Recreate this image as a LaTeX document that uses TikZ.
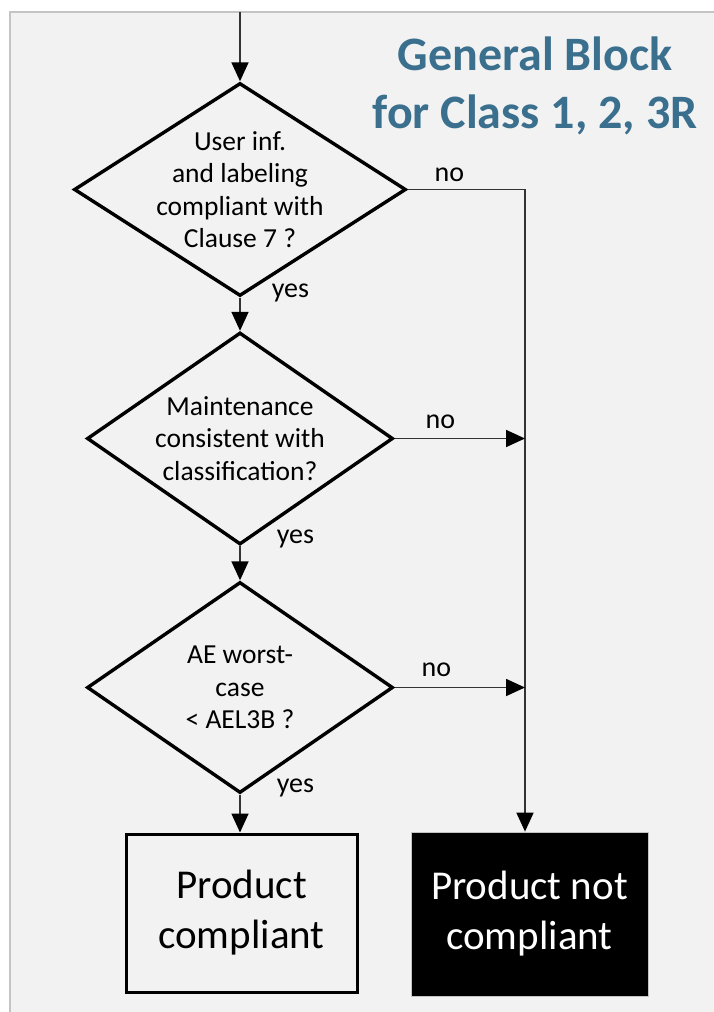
\documentclass[tikz,border=0pt]{standalone}
\usepackage{fontspec}
\setmainfont{Carlito}
\usepackage{xcolor}
\usepackage{tikz}
\usetikzlibrary{shapes.geometric,arrows.meta}

\definecolor{panelgrey}{HTML}{F2F2F2}
\definecolor{framegrey}{HTML}{C4C4C4}
\definecolor{titleblue}{RGB}{58,111,142}

\tikzset{
  dec/.style={diamond, draw, line width=3.4pt, inner sep=0pt},
  dectext/.style={align=center, inner sep=0pt, font=\fontsize{27.5}{32.5}\selectfont},
  res/.style={rectangle, align=center, inner sep=0pt,
    font=\fontsize{41}{50}\selectfont},
  flow/.style={line width=1.7pt, draw=black!80,
    -{Triangle[length=19pt,width=17pt,color=black]}},
  lbl/.style={font=\fontsize{28}{32}\selectfont, inner sep=0pt}
}

\begin{document}
\begin{tikzpicture}[x=1pt,y=1pt]
\useasboundingbox (0,0) rectangle (714,-1012);
% panel
\fill[panelgrey] (10,-12) rectangle (714,-1012);
\draw[framegrey, line width=2pt] (10,-1012) -- (10,-12) -- (714,-12);

\node (title) at (535,-86) [align=center, text=titleblue,
  font=\fontsize{48}{58}\selectfont\bfseries] {General Block\\for Class 1, 2, 3R};

\coordinate (start) at (240,-12);
\node (d1) at (240,-189.5) [dec, minimum width=332, minimum height=213] {};
\node (q1) at (d1) [dectext] {User inf.\\and labeling\\compliant with\\Clause 7 ?};
\node (d2) at (240,-438.5) [dec, minimum width=306, minimum height=212] {};
\node (q2) at (d2) [dectext] {Maintenance\\consistent with\\classification?};
\node (d3) at (240,-687.5) [dec, minimum width=306, minimum height=211] {};
\node (q3) at (d3) [dectext] {AE worst-\\case\\< AEL3B ?};

\node (ok) at (241.5,-913) [res, draw, line width=3pt,
  minimum width=231, minimum height=158] {Product\\compliant};
\node (nok) at (529.5,-914) [res, fill=black, draw=framegrey, line width=0.8pt,
  text=white, minimum width=237, minimum height=164] {Product not\\compliant};

% yes branch
\draw[flow] (start) -- (d1.north);
\draw[flow] (d1.south) -- node[lbl, pos=0, anchor=west, xshift=31pt, yshift=5pt] {yes} (d2.north);
\draw[flow] (d2.south) -- node[lbl, pos=0, anchor=west, xshift=36pt, yshift=7pt] {yes} (d3.north);
\draw[flow] (d3.south) -- node[lbl, pos=0, anchor=west, xshift=36pt, yshift=7pt] {yes} (ok.north -| d3.south);

% no branch
\coordinate (turn) at (525,-189.5);
\coordinate (join2) at (525,-438.5);
\coordinate (join3) at (525,-687.5);
\draw[flow] (d1.east) -- node[lbl, pos=0, anchor=west, xshift=26pt, yshift=15pt] {no}
  (turn) -- (turn |- nok.north);
\draw[flow] (d2.east) -- node[lbl, pos=0, anchor=west, xshift=30pt, yshift=17pt] {no} (join2);
\draw[flow] (d3.east) -- node[lbl, pos=0, anchor=west, xshift=26pt, yshift=18pt] {no} (join3);
\end{tikzpicture}
\end{document}
